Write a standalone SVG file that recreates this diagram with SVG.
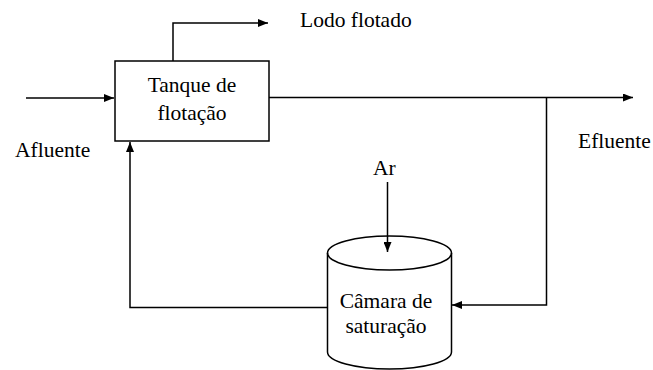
<svg xmlns="http://www.w3.org/2000/svg" width="653" height="370" viewBox="0 0 653 370">
<defs>
<marker id="ah" markerWidth="10" markerHeight="8" refX="10" refY="4" orient="auto" markerUnits="userSpaceOnUse">
<path d="M0,0 L10,4 L0,8 Z" fill="#000"/>
</marker>
<style>
text{font-family:"Liberation Serif","Times New Roman",serif;font-size:21.5px;fill:#000}
.c{text-anchor:middle}
.ln{fill:none;stroke:#000;stroke-width:1.5}
.nd{fill:#fff;stroke:#000;stroke-width:1.5}
</style>
</defs>
<rect width="653" height="370" fill="#fff"/>
<g id="tanque">
<rect class="nd" x="115" y="61" width="154" height="80"/>
<text class="c" x="192" y="92">Tanque de</text>
<text class="c" x="192" y="120">flotação</text>
</g>
<g id="camara">
<path class="nd" d="M327.5,253 L327.5,352 A62,17 0 0 0 451.5,352 L451.5,253 A62,17 0 0 0 327.5,253 Z"/>
<path class="ln" d="M327.5,253 A62,17 0 0 0 451.5,253"/>
<text class="c" x="386" y="308">Câmara de</text>
<text class="c" x="386" y="333">saturação</text>
</g>
<g id="connectors">
<path class="ln" d="M26,98 L114,98" marker-end="url(#ah)"/>
<path class="ln" d="M173,61 L173,23 L268,23" marker-end="url(#ah)"/>
<path class="ln" d="M269,97.5 L633,97.5" marker-end="url(#ah)"/>
<path class="ln" d="M546.5,97.5 L546.5,305 L452,305" marker-end="url(#ah)"/>
<path class="ln" d="M387.5,182 L387.5,252" marker-end="url(#ah)"/>
<path class="ln" d="M327.5,307.5 L130,307.5 L130,142" marker-end="url(#ah)"/>
</g>
<g id="labels">
<text x="300" y="27">Lodo flotado</text>
<text x="15" y="157">Afluente</text>
<text x="578" y="148">Efluente</text>
<text x="373" y="175">Ar</text>
</g>
</svg>
